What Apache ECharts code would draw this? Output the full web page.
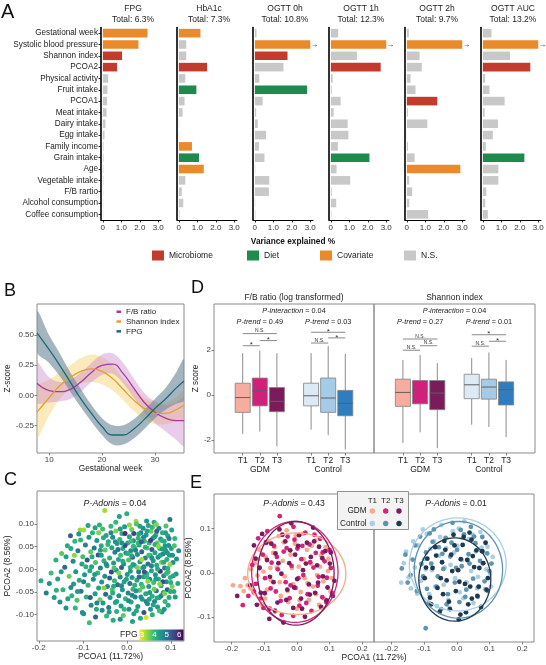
<!DOCTYPE html>
<html><head><meta charset="utf-8">
<script src="https://cdn.jsdelivr.net/npm/echarts@6/dist/echarts.min.js"></script>
<style>html,body{margin:0;padding:0;background:#fff}#c{width:546px;height:665px}</style>
</head><body><div id="c"></div>
<script>
const FONT = 'Liberation Sans, Arial, Helvetica, sans-serif';

// ================= DATA =================
// ---- Panel A ----
const factors = ['Gestational week','Systolic blood pressure','Shannon index','PCOA2','Physical activity','Fruit intake','PCOA1','Meat intake','Dairy intake','Egg intake','Family income','Grain intake','Age','Vegetable intake','F/B rartio','Alcohol consumption','Coffee consumption'];
const outcomes = ['FPG','HbA1c','OGTT 0h','OGTT 1h','OGTT 2h','OGTT AUC'];
const totals = ['6.3%','7.3%','10.8%','12.3%','9.7%','13.2%'];
const varFPG    = [2.42,1.93,1.04,0.77,0.29,0.25,0.23,0.20,0.14,0.09,0.04,0.04,0.03,0.03,0.02,0.02,0.02];
const varHbA1c  = [1.17,0.40,0.40,1.53,0.35,0.95,0.31,0.20,0.02,0.02,0.71,1.09,1.35,0.35,0.16,0.24,0.04];
const varOGTT0h = [0.09,3.00,1.77,1.55,0.24,2.83,0.42,0.07,0.16,0.61,0.22,0.52,0.02,0.78,0.76,0.02,0.03];
const varOGTT1h = [0.40,3.00,1.41,2.70,0.10,0.05,0.53,0.15,0.91,0.95,0.38,2.09,0.31,1.05,0.05,0.29,0.03];
const varOGTT2h = [0.11,3.00,0.69,0.81,0.20,0.47,1.65,0.06,1.11,0.01,0.06,0.42,2.90,0.13,0.29,0.13,1.15];
const varOGTTAUC= [0.47,3.00,1.47,2.57,0.13,0.36,1.18,0.10,0.82,0.54,0.16,2.25,0.84,0.84,0.19,0.13,0.27];
// category of each bar: M microbiome, D diet, C covariate, N not significant
const sigFPG     = 'CCMMNNNNNNNNNNNNN';
const sigHbA1c   = 'CNNMNDNNNNCDCNNNN';
const sigOGTT0h  = 'NCMNNDNNNNNNNNNNN';
const sigOGTT1h  = 'NCNMNNNNNNNDNNNNN';
const sigOGTT2h  = 'NCNNNNMNNNNNCNNNN';
const sigOGTTAUC = 'NCNMNNNNNNNDNNNNN';
const legendNames = ['Microbiome','Diet','Covariate','N.S.'];
const legendCodes = ['M','D','C','N'];
const axisMaxShown = 3; // bars reaching this are truncated (arrow)

// ---- Panel B ----
const weeks  = [7.7, 10, 12, 14, 16, 18, 20, 22, 24, 26, 28, 30, 32, 34, 35.5];
const fpgMid = [0.52, 0.38, 0.25, 0.11, -0.03, -0.15, -0.26, -0.33, -0.33, -0.28, -0.20, -0.11, -0.03, 0.06, 0.12];
const fpgLow = [0.36, 0.27, 0.16, 0.03, -0.10, -0.22, -0.33, -0.41, -0.41, -0.36, -0.28, -0.19, -0.12, -0.07, -0.04];
const fpgUp  = [0.70, 0.50, 0.35, 0.19, 0.05, -0.08, -0.19, -0.25, -0.25, -0.20, -0.12, -0.03, 0.06, 0.19, 0.30];
const fbMid  = [0.10, 0.04, 0.03, 0.05, 0.11, 0.19, 0.25, 0.26, 0.18, 0.06, -0.06, -0.14, -0.19, -0.21, -0.21];
const fbLow  = [-0.06, -0.06, -0.05, -0.03, 0.03, 0.11, 0.17, 0.18, 0.10, -0.02, -0.14, -0.23, -0.30, -0.37, -0.42];
const fbUp   = [0.27, 0.15, 0.11, 0.13, 0.19, 0.27, 0.34, 0.35, 0.27, 0.14, 0.02, -0.05, -0.08, -0.06, -0.02];
const shMid  = [-0.14, -0.02, 0.08, 0.15, 0.20, 0.22, 0.20, 0.14, 0.05, -0.04, -0.11, -0.15, -0.15, -0.12, -0.08];
const shLow  = [-0.35, -0.17, -0.03, 0.05, 0.10, 0.11, 0.09, 0.04, -0.04, -0.13, -0.20, -0.24, -0.24, -0.22, -0.20];
const shUp   = [0.07, 0.13, 0.19, 0.25, 0.31, 0.34, 0.32, 0.25, 0.14, 0.05, -0.02, -0.06, -0.06, -0.02, 0.04];

// ---- Panel D ---- [min, q1, median, q3, max] for GDM T1..T3, Control T1..T3
const groups = ['GDM','Control'];
const terciles = ['T1','T2','T3'];
const fbBoxStats = [
  [-1.73,-0.77,-0.11,0.53,1.87],[-1.62,-0.48,0.19,0.76,1.98],[-2.28,-0.74,-0.28,0.34,1.87],
  [-1.54,-0.48,-0.03,0.53,1.87],[-1.78,-0.77,-0.13,0.76,2.19],[-2.43,-0.92,-0.37,0.21,1.84]];
const shBoxStats = [
  [-2.13,-0.50,0.12,0.71,1.57],[-1.66,-0.39,0.24,0.65,1.79],[-2.36,-0.65,0.09,0.65,1.42],
  [-1.32,-0.16,0.46,0.93,1.66],[-1.42,-0.18,0.36,0.71,1.90],[-1.87,-0.44,0.24,0.59,1.57]];
// [group, tercileA, tercileB, height, label]
const fbBrackets = [[0,0,2,2.74,'N.S.'],[0,0,1,2.20,'*'],[0,1,2,2.43,'*'],[1,0,2,2.80,'*'],[1,0,1,2.32,'N.S.'],[1,1,2,2.55,'*']];
const shBrackets = [[0,0,2,2.50,'N.S.'],[0,0,1,2.00,'N.S.'],[0,1,2,2.20,'N.S.'],[1,0,2,2.69,'*'],[1,0,1,2.18,'N.S.'],[1,1,2,2.40,'*']];
const fbTrend = ['0.49','0.03'], shTrend = ['0.27','0.01'];
const fbInteraction = '0.04', shInteraction = '0.04';

// ---- Panel C ---- [PCOA1, PCOA2, FPG]
const cPoints = [
[-0.195,-0.025,4.2],[-0.183,-0.052,4.9],[-0.172,-0.008,3.9],[-0.165,-0.062,4.4],[-0.161,0.021,4.1],
[-0.157,-0.021,4.3],[-0.152,-0.072,4.6],[-0.148,0.035,3.7],[-0.145,-0.045,4.0],[-0.141,0.005,5.1],
[-0.138,-0.085,4.5],[-0.135,0.052,4.2],[-0.131,-0.015,3.6],[-0.128,0.074,5.3],[-0.125,-0.058,4.1],[-0.122,0.018,4.7],[-0.121,-0.032,4.4],
[-0.118,0.062,4.0],[-0.116,-0.005,4.5],[-0.113,-0.068,3.8],[-0.111,0.041,4.9],[-0.108,-0.024,4.2],[-0.106,0.087,3.4],[-0.104,-0.048,5.0],[-0.102,0.012,4.3],[-0.101,-0.095,4.6],[-0.1,0.028,3.9],
[-0.098,0.087,3.3],[-0.096,-0.012,4.4],[-0.094,0.054,4.8],[-0.092,-0.061,4.1],[-0.09,0.021,5.4],[-0.088,-0.035,4.0],[-0.086,0.071,4.5],[-0.085,-0.118,3.9],[-0.084,-0.003,4.2],[-0.082,0.039,3.7],[-0.081,-0.079,4.7],[-0.08,0.006,4.3],
[-0.078,0.081,4.1],[-0.076,-0.022,4.6],[-0.074,0.047,5.0],[-0.072,-0.054,4.4],[-0.071,0.015,3.8],[-0.069,-0.088,4.2],[-0.068,0.064,4.5],[-0.066,-0.008,4.0],[-0.065,0.032,5.5],[-0.064,-0.041,4.3],[-0.062,0.098,4.1],[-0.061,-0.067,3.6],[-0.06,0.003,4.8],
[-0.058,0.052,4.2],[-0.057,-0.028,4.5],[-0.055,0.089,3.9],[-0.054,-0.074,4.4],[-0.052,0.019,4.1],[-0.05,0.13,3.3],[-0.05,-0.015,4.6],[-0.049,0.043,3.7],[-0.048,-0.055,5.2],[-0.047,0.075,4.3],[-0.046,-0.103,4.0],[-0.045,0.008,4.4],[-0.044,-0.038,4.7],[-0.042,0.061,4.2],[-0.041,-0.084,4.9],
[-0.039,0.025,4.1],[-0.038,-0.062,4.5],[-0.036,0.095,4.0],[-0.035,-0.006,5.6],[-0.034,0.048,4.3],[-0.033,-0.045,3.8],[-0.032,0.071,4.6],[-0.031,-0.112,4.2],[-0.03,0.014,4.4],[-0.028,-0.025,4.0],[-0.027,0.038,4.8],[-0.026,-0.073,4.3],[-0.025,0.085,3.5],[-0.024,-0.002,4.5],[-0.023,-0.093,4.1],[-0.022,0.057,4.4],[-0.021,-0.034,5.1],
[-0.019,0.022,4.2],[-0.018,-0.058,4.6],[-0.017,0.117,4.3],[-0.016,0.066,4.0],[-0.015,-0.017,4.7],[-0.014,0.031,3.9],[-0.013,-0.081,4.4],[-0.012,0.004,5.3],[-0.011,0.079,4.1],[-0.01,-0.045,4.5],[-0.009,0.046,4.2],[-0.008,-0.102,3.7],[-0.007,0.012,4.6],[-0.006,-0.027,4.3],[-0.005,0.094,4.4],[-0.004,0.079,5.9],[-0.003,-0.065,4.0],[-0.002,0.036,4.8],
[0.0,0.123,4.1],[0.001,-0.011,4.4],[0.002,0.058,4.2],[0.003,-0.052,4.7],[0.004,0.021,3.8],[0.005,-0.088,4.5],[0.006,0.072,4.3],[0.007,-0.031,5.0],[0.008,0.004,4.1],[0.009,0.041,4.6],[0.01,-0.072,4.2],[0.011,0.088,3.6],[0.012,-0.018,4.4],[0.013,0.027,5.4],[0.014,-0.044,4.0],[0.015,0.063,4.7],[0.016,-0.098,4.3],[0.017,0.009,4.5],[0.018,0.048,3.9],[0.019,-0.061,4.8],
[0.021,0.106,3.3],[0.022,0.1,3.8],[0.023,-0.024,4.2],[0.024,0.033,4.6],[0.025,-0.082,4.4],[0.026,0.069,4.1],[0.027,-0.005,4.9],[0.028,0.054,4.3],[0.029,-0.046,3.7],[0.03,0.017,4.5],[0.031,-0.108,4.2],[0.032,0.081,4.8],[0.033,-0.033,4.0],[0.034,0.039,5.2],[0.035,-0.066,4.4],[0.036,0.003,4.1],[0.037,0.091,4.6],[0.038,-0.016,4.3],[0.039,-0.095,5.5],[0.04,0.062,4.0],[0.044,-0.106,3.0],[0.042,0.025,4.7],
[0.043,-0.054,4.2],[0.044,0.076,4.5],[0.045,-0.009,4.1],[0.046,0.047,3.8],[0.047,-0.076,4.6],[0.048,0.012,5.0],[0.049,0.097,4.3],[0.05,-0.038,4.4],[0.051,0.058,4.0],[0.052,-0.022,4.8],[0.053,0.031,4.2],[0.054,-0.088,4.5],[0.055,0.084,3.6],[0.056,-0.003,4.3],[0.057,0.044,5.3],[0.058,-0.059,4.1],[0.059,0.069,4.6],[0.06,0.019,4.4],[0.061,-0.029,3.9],[0.062,0.104,4.2],[0.063,-0.071,4.7],[0.064,0.037,4.3],
[0.065,-0.012,4.5],[0.066,0.076,4.0],[0.067,-0.047,5.1],[0.068,0.009,4.2],[0.069,0.058,3.7],[0.07,-0.083,4.4],[0.071,0.027,4.6],[0.072,-0.021,4.1],[0.073,0.091,4.8],[0.074,-0.062,4.3],[0.075,0.046,4.0],[0.076,-0.004,5.8],[0.077,0.067,4.5],[0.078,-0.036,4.2],[0.079,0.016,3.6],[0.08,-0.094,4.4],[0.081,0.081,4.1],[0.082,0.034,4.7],[0.083,-0.051,4.3],[0.084,-0.014,4.6],
[0.085,0.062,4.2],[0.086,0.003,4.9],[0.087,-0.071,4.0],[0.088,0.042,4.4],[0.089,0.096,3.8],[0.09,-0.027,4.5],[0.091,0.022,4.1],[0.092,-0.045,5.3],[0.093,0.074,4.3],[0.094,-0.006,3.9],[0.095,0.053,4.6],[0.096,-0.062,4.2],[0.097,0.031,4.4],[0.098,0.11,5.0],[0.099,-0.018,4.1],
[0.101,0.046,4.3],[0.103,-0.038,3.5],[0.105,0.015,4.6],[0.107,-0.049,4.2],[0.109,0.068,4.0],[0.112,-0.01,4.4],
[-0.058,0.031,4.4],[-0.052,-0.041,3.4],[-0.047,0.012,4.6],[-0.043,0.055,4.0],[-0.039,-0.019,5.3],[-0.036,0.081,4.7],[-0.032,-0.052,4.2],[-0.029,0.003,3.8],[-0.026,0.061,4.5],[-0.023,-0.071,4.3],[-0.02,0.044,5.0],[-0.018,-0.008,3.5],[-0.015,0.089,4.4],[-0.012,-0.036,4.6],[-0.009,0.018,4.2],[-0.006,-0.088,4.0],[-0.004,0.053,5.5],[-0.001,-0.022,4.3],
[0.002,0.035,4.1],[0.004,-0.069,4.6],[0.006,0.098,3.4],[0.008,-0.004,4.4],[0.01,0.062,3.9],[0.012,-0.057,4.7],[0.014,0.011,4.3],[0.016,0.079,5.6],[0.018,-0.035,4.1],[0.02,0.042,4.8],[0.022,-0.091,4.2],[0.024,0.004,3.5],[0.026,0.058,4.0],[0.028,-0.017,5.1],[0.03,0.095,4.3],[0.032,-0.061,4.5],[0.034,0.022,3.3],[0.036,-0.039,3.8],[0.038,0.071,4.6],[0.04,-0.006,5.4],
[0.042,0.049,4.1],[0.044,-0.071,4.7],[0.046,0.085,4.3],[0.048,-0.026,3.4],[0.05,0.031,3.9],[0.052,-0.051,4.4],[0.054,0.064,5.7],[0.056,0.008,4.8],[0.058,0.093,4.0],[0.06,-0.078,4.3],[0.062,-0.044,3.6],[0.064,0.055,4.1],[0.066,-0.021,4.4],[0.068,0.084,5.2],[0.07,0.001,4.2],[0.072,0.051,3.4],[0.074,-0.091,3.9],[0.076,0.031,4.3],[0.078,-0.058,4.7],[0.08,0.064,4.1],
[0.082,-0.027,5.5],[0.084,0.016,4.2],[0.086,-0.053,3.5],[0.088,0.081,4.3],[0.09,-0.009,4.0],[0.092,0.037,4.5],[0.094,-0.079,4.2],[0.096,0.068,4.8],[0.098,0.011,3.4],[0.1,-0.029,4.1],[0.102,0.087,4.3],[0.104,0.031,4.6],[0.106,-0.014,4.2],[0.108,0.052,3.8],[0.11,-0.061,4.4],[0.113,0.023,4.5],[0.116,-0.031,4.2],[0.118,0.041,4.7],
[-0.138,0.028,4.3],[-0.127,-0.04,4.6],[-0.119,0.031,3.4],[-0.112,-0.049,4.4],[-0.105,0.065,4.0],[-0.098,-0.027,4.7],[-0.093,0.006,4.1],[-0.088,0.097,4.3],[-0.083,-0.062,5.3],[-0.079,0.028,4.2],[-0.073,-0.011,4.4],[-0.068,-0.074,4.8],[-0.064,0.081,3.5],[-0.06,0.042,4.3],[-0.056,-0.09,4.6],[-0.053,0.07,4.2],
[-0.149,-0.005,4.4],[-0.16,-0.046,4.1],[-0.176,-0.031,4.6],[-0.134,-0.065,4.3],[-0.117,-0.085,4.0],[-0.098,-0.098,4.5],[-0.071,-0.105,5.2],[-0.04,-0.094,4.4],[-0.015,-0.11,4.6],[0.013,-0.115,4.3],[0.058,-0.1,4.1],[0.085,-0.088,4.5],[0.067,0.099,3.5],[0.045,0.107,4.4],[-0.025,0.104,4.0],[-0.072,0.092,4.3],[-0.109,0.078,4.5],[-0.127,0.046,4.2],
[0.015,0.051,4.0],[0.027,0.078,4.2],[0.039,0.006,4.6],[0.051,-0.066,4.3],[0.063,0.072,4.5],[0.075,-0.033,3.4],[0.087,0.052,4.4],[0.099,-0.049,4.2],[0.021,-0.047,4.5],[0.033,0.061,5.3],[0.045,-0.016,4.0],[0.057,0.025,4.6],[0.069,-0.063,4.2],[0.081,0.045,4.4],[0.093,0.002,4.1],[0.011,0.03,4.3],[-0.011,0.058,4.5],[-0.03,-0.037,4.2]];

// ---- Panel E ---- [PCOA1, PCOA2]
const gdmT1 = [[-0.195,-0.028],[-0.172,-0.03],[-0.158,-0.012],[-0.15,-0.028],[-0.141,0.008],[-0.132,-0.045],[-0.128,0.022],[-0.12,-0.006],[-0.113,0.052],[-0.108,-0.071],[-0.102,0.003],[-0.095,0.036],[-0.091,-0.038],[-0.085,0.071],[-0.079,-0.017],[-0.072,0.045],[-0.066,-0.088],[-0.061,0.012],[-0.055,0.083],[-0.049,-0.052],[-0.043,0.027],[-0.037,-0.008],[-0.031,0.096],[-0.026,-0.066],[-0.019,0.041],[-0.012,-0.026],[-0.006,0.066],[0.0,-0.081],[0.006,0.014],[0.012,-0.043],[0.018,0.088],[0.024,-0.012],[0.031,0.052],[0.037,-0.061],[0.043,0.021],[0.049,-0.031],[0.056,0.073],[0.062,-0.005],[0.068,-0.072],[0.074,0.039],[0.081,-0.019],[0.088,0.058],[0.095,0.004],[0.103,-0.041],
 [-0.141,-0.035],[-0.118,0.031],[-0.097,-0.058],[-0.081,0.011],[-0.068,0.058],[-0.052,-0.021],[-0.04,0.069],[-0.028,-0.041],[-0.015,0.011],[-0.003,0.084],[0.009,-0.062],[0.021,0.031],[0.033,-0.023],[0.046,0.061],[0.059,-0.048],[0.071,0.014],[0.084,-0.058],[0.097,0.032],[0.108,-0.012],[-0.162,-0.041]];
const gdmT2 = [[-0.165,-0.073],[-0.148,-0.052],[-0.136,0.018],[-0.125,-0.025],[-0.118,0.078],[-0.111,-0.058],[-0.104,0.041],[-0.097,-0.012],[-0.09,0.094],[-0.083,-0.081],[-0.077,0.023],[-0.07,0.061],[-0.064,-0.042],[-0.058,0.008],[-0.052,0.128],[-0.046,-0.095],[-0.04,0.048],[-0.034,-0.021],[-0.028,0.082],[-0.022,-0.057],[-0.016,0.016],[-0.01,0.104],[-0.004,-0.034],[0.002,0.055],[0.008,-0.074],[0.014,0.031],[0.02,-0.005],[0.026,0.091],[0.033,-0.048],[0.039,0.064],[0.045,-0.086],[0.051,0.012],[0.058,0.045],[0.064,-0.029],[0.071,0.077],[0.078,-0.055],[0.085,0.026],[0.092,-0.011],[0.1,0.052],[0.108,-0.046],
 [-0.131,-0.042],[-0.114,0.012],[-0.093,0.068],[-0.08,-0.035],[-0.061,0.036],[-0.049,-0.063],[-0.031,0.056],[-0.019,-0.028],[-0.007,0.075],[0.005,-0.012],[0.017,0.061],[0.029,-0.068],[0.041,0.024],[0.054,0.086],[0.067,-0.009],[0.079,0.046],[0.09,-0.066],[0.104,0.011],[-0.102,-0.079],[-0.011,-0.097]];
const gdmT3 = [[-0.182,-0.052],[-0.142,-0.028],[-0.131,0.062],[-0.122,-0.072],[-0.114,0.011],[-0.106,0.088],[-0.098,-0.046],[-0.091,0.029],[-0.084,-0.104],[-0.078,0.066],[-0.071,-0.021],[-0.065,0.044],[-0.059,-0.067],[-0.053,0.098],[-0.047,-0.002],[-0.041,-0.112],[-0.035,0.071],[-0.029,-0.038],[-0.023,0.022],[-0.017,0.112],[-0.011,-0.079],[-0.005,0.041],[0.001,-0.014],[0.007,0.085],[0.013,-0.058],[0.019,0.006],[0.025,-0.099],[0.031,0.068],[0.037,-0.026],[0.043,0.036],[0.05,0.102],[0.056,-0.045],[0.062,0.017],[0.068,0.059],[0.074,-0.077],[0.08,-0.008],[0.087,0.049],[0.094,-0.033],[0.101,0.021],[0.11,-0.052],
 [-0.126,0.032],[-0.11,-0.045],[-0.094,0.069],[-0.082,-0.009],[-0.067,-0.085],[-0.056,0.022],[-0.044,0.086],[-0.032,-0.061],[-0.02,0.051],[-0.008,-0.033],[0.004,0.061],[0.016,-0.081],[0.028,0.021],[0.04,-0.049],[0.053,0.071],[0.065,-0.022],[0.078,0.033],[0.091,-0.062],[0.104,0.046],[0.115,-0.018]];
const ctlT1 = [[-0.17,-0.022],[-0.155,0.048],[-0.14,-0.035],[-0.128,0.012],[-0.118,0.062],[-0.109,-0.018],[-0.1,0.031],[-0.092,0.088],[-0.084,-0.048],[-0.076,0.006],[-0.069,0.071],[-0.061,-0.075],[-0.054,0.039],[-0.047,0.108],[-0.04,-0.027],[-0.033,0.056],[-0.026,-0.061],[-0.019,0.018],[-0.012,0.094],[-0.005,-0.012],[0.002,0.061],[0.009,-0.044],[0.016,0.029],[0.023,0.116],[0.03,-0.021],[0.037,0.076],[0.044,0.004],[0.051,-0.068],[0.058,0.048],[0.065,-0.009],[0.072,0.092],[0.079,0.021],[0.086,-0.037],[0.094,0.059],[0.102,-0.002],[0.11,0.036],
 [-0.162,0.022],[-0.147,-0.01],[-0.133,0.071],[-0.121,-0.047],[-0.104,0.098],[-0.095,0.008],[-0.081,0.054],[-0.066,-0.031],[-0.051,0.081],[-0.037,0.012],[-0.022,-0.079],[-0.008,0.046],[0.006,0.1],[0.02,-0.057],[0.034,0.029],[0.049,0.086],[0.062,-0.035],[0.076,0.057],[0.09,0.008],[0.105,-0.031]];
const ctlT2 = [[-0.168,0.01],[-0.15,-0.022],[-0.135,0.03],[-0.122,-0.041],[-0.112,0.082],[-0.103,-0.008],[-0.094,0.046],[-0.086,-0.068],[-0.078,0.021],[-0.07,0.098],[-0.062,-0.031],[-0.055,0.058],[-0.048,-0.082],[-0.041,0.009],[-0.034,0.079],[-0.027,-0.048],[-0.02,0.037],[-0.013,0.113],[-0.006,-0.022],[0.001,0.052],[0.008,-0.066],[0.015,0.015],[0.022,0.087],[0.029,-0.038],[0.036,0.042],[0.043,0.104],[0.05,-0.013],[0.057,0.067],[0.064,-0.054],[0.071,0.027],[0.078,0.081],[0.085,-0.019],[0.093,0.044],[0.1,0.004],[-0.095,-0.125],
 [-0.157,0.041],[-0.141,-0.005],[-0.127,0.062],[-0.108,0.02],[-0.091,-0.036],[-0.074,0.07],[-0.058,-0.008],[-0.044,0.043],[-0.031,-0.071],[-0.016,0.068],[-0.002,0.011],[0.012,0.097],[0.026,-0.054],[0.039,0.021],[0.053,0.082],[0.067,-0.032],[0.08,0.048],[0.094,-0.041],[0.106,0.021],[-0.083,0.089]];
const ctlT3 = [[-0.098,-0.012],[-0.09,0.032],[-0.082,-0.056],[-0.074,0.011],[-0.066,0.058],[-0.059,-0.034],[-0.052,-0.088],[-0.045,0.024],[-0.038,0.072],[-0.031,-0.017],[-0.024,-0.065],[-0.017,0.041],[-0.01,0.086],[-0.003,-0.041],[0.004,0.006],[0.011,-0.094],[0.018,0.063],[0.025,-0.025],[0.032,0.029],[0.039,0.091],[0.046,-0.058],[0.053,0.013],[0.06,0.051],[0.067,-0.031],[0.074,-0.077],[0.081,0.022],[0.088,0.068],[0.095,-0.012],[0.006,-0.105],[0.045,0.075],
 [-0.094,0.012],[-0.078,-0.071],[-0.063,0.039],[-0.049,-0.012],[-0.035,0.052],[-0.021,-0.082],[-0.007,0.062],[0.008,-0.02],[0.021,0.081],[0.035,-0.071],[0.049,0.038],[0.063,-0.052],[0.077,0.049],[0.091,-0.038],[0.012,0.031],[-0.014,0.004],[0.041,-0.031],[0.069,0.011],[-0.042,-0.048],[0.028,-0.089]];
// ellipses [cx, cy, rx, ry, angleDeg]
const gdmEllipses = [[0.0,-0.002,0.15,0.092,0],[-0.006,0.002,0.132,0.114,0],[-0.003,-0.001,0.117,0.117,0]];
const ctlEllipses = [[0.003,0.019,0.148,0.105,0],[0.005,0.007,0.135,0.109,0],[-0.006,-0.015,0.11,0.094,0]];
const adonisGDM = '0.43', adonisCtl = '0.01', adonisC = '0.04';

// ================= STYLE / LAYOUT =================
const SIG_COLOR = {M:'#C23B2C', D:'#1F8A4D', C:'#E98A2B', N:'#C8C8C8'};
const BOX_COLORS = ['#F6AD9F','#D21F7C','#7B1B5B','#DDE9F5','#A5CBE6','#2E7DC0'];
const E_COLORS = ['#F8A88C','#D4237A','#7B1C5F','#A9CFE4','#5F93AE','#1E3A52'];
const VIRIDIS_R = ['#FDE725','#B5DE2B','#6ECE58','#35B779','#1F9E89','#26828E','#31688E','#3E4989','#482878','#440154'];
const FPG_MIN = 2.8, FPG_MAX = 6.35;
const aLefts = [101,177,253,329,405,481];

function fmtNum(v, d){ return (v < 0 ? '-' : '') + Math.abs(v).toFixed(d); }
function boxX(k){ return Math.floor(k/3) + 1 + (k%3 - 1) * 0.25; }
function txt(x, y, text, o){
  const s = Object.assign({text, fontSize:8.3, fontFamily:FONT, fill:'#222', align:'center', verticalAlign:'middle'}, o||{});
  s.textAlign = s.align; s.textVerticalAlign = s.verticalAlign;
  return {type:'text', x, y, z:100, silent:true, style:s};
}
function richStyle(size){
  return {i:{fontStyle:'italic', fontSize:size, fontFamily:FONT, fill:'#222'}, n:{fontSize:size, fontFamily:FONT, fill:'#222'}};
}
function ptxt(x, y, it, rest, size){
  return txt(x, y, '{i|'+it+'}{n|'+rest+'}', {rich:richStyle(size), fontSize:size});
}

const grids = [], xAxes = [], yAxes = [], series = [];
const gridBase = {containLabel:false, outerBoundsMode:'none'};
const boxGrid = (l,t,w,h) => Object.assign({left:l, top:t, width:w, height:h, show:true, borderColor:'#8a8a8a', borderWidth:1, backgroundColor:'transparent'}, gridBase);
const noLine = {show:false, onZero:false};
const tickStyle = {show:true, length:2.5, lineStyle:{color:'#666', width:0.8}};
const lblStyle = {fontSize:8, color:'#444', fontFamily:FONT, margin:3, hideOverlap:false};

// ---------- A ----------
const aValues = [varFPG, varHbA1c, varOGTT0h, varOGTT1h, varOGTT2h, varOGTTAUC];
const aSig = [sigFPG, sigHbA1c, sigOGTT0h, sigOGTT1h, sigOGTT2h, sigOGTTAUC];
aValues.forEach((vals, i) => {
  grids.push(Object.assign({left:aLefts[i], top:27.5, width:60, height:192.5, show:false}, gridBase));
  xAxes.push({gridIndex:i, type:'value', min:-0.1, max:3.15,
    axisLine:{show:true, onZero:false, lineStyle:{color:'#000', width:1}},
    axisTick:{show:true, length:2.5, lineStyle:{color:'#000', width:0.8}, customValues:[0,1,2,3]},
    axisLabel:{customValues:[0,1,2,3], formatter:v => v === 0 ? '0' : v.toFixed(1), fontSize:8, color:'#333', fontFamily:FONT, margin:4, hideOverlap:false},
    splitLine:{show:false}});
  yAxes.push({gridIndex:i, type:'category', data:factors, inverse:true,
    axisLine:{show:true, onZero:false, lineStyle:{color:'#000', width:1.6}},
    axisTick:{show:i===0, length:2.5, alignWithLabel:true, lineStyle:{color:'#000', width:0.8}},
    axisLabel:{show:i===0, interval:0, fontSize:8.2, color:'#222', fontFamily:FONT, margin:3, hideOverlap:false},
    splitLine:{show:false}});
  series.push({type:'bar', name:'var-' + outcomes[i], xAxisIndex:i, yAxisIndex:i, barWidth:8.6, silent:true,
    data: vals.map((v,k) => ({value:v, itemStyle:{color:SIG_COLOR[aSig[i][k]]},
      label:{show: v >= axisMaxShown, position:'right', distance:0, formatter:'\u2192', fontSize:8, color:'#222', fontFamily:FONT}}))});
});
legendNames.forEach((n, j) => series.push({type:'scatter', name:n, xAxisIndex:0, yAxisIndex:0, data:[], itemStyle:{color:SIG_COLOR[legendCodes[j]], opacity:1}}));

// ---------- B ----------
const gB = grids.length;
grids.push(boxGrid(37, 304, 147, 149));
xAxes.push({gridIndex:gB, type:'value', min:7.7, max:35.5, axisLine:noLine, splitLine:{show:false},
  axisTick:Object.assign({customValues:[10,20,30]}, tickStyle),
  axisLabel:Object.assign({customValues:[10,20,30]}, lblStyle),
  name:'Gestational week', nameLocation:'middle', nameGap:10, nameTextStyle:{fontSize:8.3, color:'#222', fontFamily:FONT, verticalAlign:'top'}});
yAxes.push({gridIndex:gB, type:'value', min:-0.48, max:0.76, axisLine:noLine, splitLine:{show:false},
  axisTick:Object.assign({customValues:[-0.25,0,0.25,0.5]}, tickStyle),
  axisLabel:Object.assign({customValues:[-0.25,0,0.25,0.5], formatter:v => fmtNum(v,2)}, lblStyle),
  name:'Z-score', nameLocation:'middle', nameGap:20, nameRotate:90, nameTextStyle:{fontSize:8.3, color:'#222', fontFamily:FONT}});
function bandSeries(lo, up, color, op){
  return {type:'custom', xAxisIndex:gB, yAxisIndex:gB, silent:true, clip:true, z:1,
    data:[[weeks[0], lo[0]]],
    renderItem:(p, api) => {
      const pts = [];
      weeks.forEach((w,i) => pts.push(api.coord([w, up[i]])));
      for (let i = weeks.length-1; i >= 0; i--) pts.push(api.coord([weeks[i], lo[i]]));
      return {type:'polygon', shape:{points:pts, smooth:0.35}, style:{fill:color, opacity:op}};
    }};
}
series.push(bandSeries(shLow, shUp, '#F6D36B', 0.45));
series.push(bandSeries(fbLow, fbUp, '#C77FC9', 0.40));
series.push(bandSeries(fpgLow, fpgUp, '#6E8797', 0.62));
[['F/B ratio', fbMid, '#A93A9C'], ['Shannon index', shMid, '#E3A02E'], ['FPG', fpgMid, '#1B6A78']].forEach(([n, arr, c]) => {
  series.push({type:'line', name:n, xAxisIndex:gB, yAxisIndex:gB, smooth:0.5, symbol:'none', silent:true, z:3,
    data: weeks.map((w,i) => [w, arr[i]]), lineStyle:{color:c, width:1.3}, itemStyle:{color:c}});
});

// ---------- D ----------
const dTicks = [0,1,2,3,4,5].map(boxX);
function dLabel(v){
  const k = dTicks.findIndex(t => Math.abs(t - v) < 1e-6);
  return k < 0 ? '' : terciles[k % 3];
}
const gD = [];
[[214,160],[374,161]].forEach(([l,w], f) => {
  const gi = grids.length; gD.push(gi);
  grids.push(boxGrid(l, 304, w, 149));
  xAxes.push({gridIndex:gi, type:'value', min:0.33, max:2.67, axisLine:noLine, splitLine:{show:false},
    axisTick:Object.assign({customValues:dTicks}, tickStyle),
    axisLabel:{customValues:dTicks, formatter:dLabel, fontSize:8.5, color:'#222', fontFamily:FONT, margin:3, hideOverlap:false}});
  yAxes.push({gridIndex:gi, type:'value', min:-2.58, max:4.06, axisLine:noLine, splitLine:{show:false},
    axisTick:Object.assign({customValues:[-2,0,2]}, tickStyle, {show:f===0}),
    axisLabel:Object.assign({customValues:[-2,0,2], show:f===0, formatter:v => v < 0 ? '-' + Math.abs(v) : String(v)}, lblStyle),
    name: f===0 ? 'Z score' : '', nameLocation:'middle', nameGap:12, nameRotate:90, nameTextStyle:{fontSize:8.3, color:'#222', fontFamily:FONT}});
});
function boxRender(stats){
  return (params, api) => {
    const k = params.dataIndex, s = stats[k], x = api.value(0);
    const half = api.size([0.11, 0])[0];
    const c = v => api.coord([x, v]);
    const lo = c(s[0]), q1 = c(s[1]), md = c(s[2]), q3 = c(s[3]), hi = c(s[4]);
    const cx = md[0];
    return {type:'group', children:[
      {type:'line', shape:{x1:cx, y1:hi[1], x2:cx, y2:q3[1]}, style:{stroke:'#8c8c8c', lineWidth:1}},
      {type:'line', shape:{x1:cx, y1:q1[1], x2:cx, y2:lo[1]}, style:{stroke:'#8c8c8c', lineWidth:1}},
      {type:'rect', shape:{x:cx-half, y:q3[1], width:2*half, height:q1[1]-q3[1]}, style:{fill:BOX_COLORS[k], stroke:'#808080', lineWidth:0.8}},
      {type:'line', shape:{x1:cx-half, y1:md[1], x2:cx+half, y2:md[1]}, style:{stroke:'#5f5f5f', lineWidth:1}}
    ]};
  };
}
function bracketRender(list){
  return (params, api) => {
    const b = list[params.dataIndex];
    const p1 = api.coord([boxX(b[0]*3+b[1]), b[3]]), p2 = api.coord([boxX(b[0]*3+b[2]), b[3]]);
    const star = b[4] === '*';
    const st = {text:b[4], fontSize: star ? 8 : 5, fontFamily:FONT, fill:'#333', align:'center', verticalAlign:'bottom'};
    st.textAlign = 'center'; st.textVerticalAlign = 'bottom';
    return {type:'group', children:[
      {type:'line', shape:{x1:p1[0], y1:p1[1], x2:p2[0], y2:p2[1]}, style:{stroke:'#555', lineWidth:0.7}},
      {type:'text', x:(p1[0]+p2[0])/2, y:p1[1] + (star ? 3.5 : -0.3), style:st}
    ]};
  };
}
const TREND_Y = 3.24, INTER_Y = 3.76;
function annotRender(trends, inter){
  return (params, api) => {
    const i = params.dataIndex;
    const p = api.coord([api.value(0), api.value(1)]);
    const lab = i < 2 ? ['P-trend', trends[i]] : ['P-interaction', inter];
    const st = {text:'{i|'+lab[0]+'}{n| = '+lab[1]+'}', rich:richStyle(7.3), fontSize:7.3, align:'center', verticalAlign:'middle'};
    st.textAlign = 'center'; st.textVerticalAlign = 'middle';
    return {type:'text', x:p[0], y:p[1], style:st};
  };
}
[[fbBoxStats, fbBrackets, fbTrend, fbInteraction], [shBoxStats, shBrackets, shTrend, shInteraction]].forEach(([stats, br, tr, inter], f) => {
  const gi = gD[f];
  series.push({type:'custom', xAxisIndex:gi, yAxisIndex:gi, silent:true, encode:{x:0, y:1},
    data: stats.map((s,k) => [boxX(k), s[2]]), renderItem:boxRender(stats)});
  series.push({type:'custom', xAxisIndex:gi, yAxisIndex:gi, silent:true, encode:{x:0, y:1},
    data: br.map(b => [boxX(b[0]*3+b[1]), b[3]]), renderItem:bracketRender(br)});
  series.push({type:'custom', xAxisIndex:gi, yAxisIndex:gi, silent:true, encode:{x:0, y:1},
    data: [[1, TREND_Y],[2, TREND_Y],[1.5, INTER_Y]], renderItem:annotRender(tr, inter)});
});

// ---------- C ----------
const gC = grids.length;
grids.push(boxGrid(37, 491, 147, 150));
xAxes.push({gridIndex:gC, type:'value', min:-0.204, max:0.130, axisLine:noLine, splitLine:{show:false},
  axisTick:Object.assign({customValues:[-0.2,-0.1,0,0.1]}, tickStyle),
  axisLabel:Object.assign({customValues:[-0.2,-0.1,0,0.1], formatter:v => fmtNum(v,1)}, lblStyle, {margin:2.5}),
  name:'PCOA1 (11.72%)', nameLocation:'middle', nameGap:11, nameTextStyle:{fontSize:8.5, color:'#222', fontFamily:FONT, verticalAlign:'top'}});
yAxes.push({gridIndex:gC, type:'value', min:-0.158, max:0.173, axisLine:noLine, splitLine:{show:false},
  axisTick:Object.assign({customValues:[-0.1,-0.05,0,0.05,0.1]}, tickStyle),
  axisLabel:Object.assign({customValues:[-0.1,-0.05,0,0.05,0.1], formatter:v => fmtNum(v,2)}, lblStyle),
  name:'PCOA2 (8.56%)', nameLocation:'middle', nameGap:25, nameRotate:90, nameTextStyle:{fontSize:8.5, color:'#222', fontFamily:FONT}});
const cSeriesIndex = series.length;
series.push({type:'scatter', xAxisIndex:gC, yAxisIndex:gC, symbolSize:5, silent:true, data:cPoints, encode:{x:0, y:1}, itemStyle:{opacity:1}});

// ---------- E ----------
const gE = [];
[[214,160],[374,160]].forEach(([l,w], f) => {
  const gi = grids.length; gE.push(gi);
  grids.push(boxGrid(l, 494, w, 148));
  xAxes.push({gridIndex:gi, type:'value', min:-0.253, max:0.236, axisLine:noLine, splitLine:{show:false},
    axisTick:Object.assign({customValues:[-0.2,-0.1,0,0.1,0.2]}, tickStyle),
    axisLabel:Object.assign({customValues:[-0.2,-0.1,0,0.1,0.2], formatter:v => fmtNum(v,1)}, lblStyle, {margin:2.5})});
  yAxes.push({gridIndex:gi, type:'value', min:-0.156, max:0.178, axisLine:noLine, splitLine:{show:false},
    axisTick:Object.assign({customValues:[-0.1,0,0.1]}, tickStyle, {show:f===0}),
    axisLabel:Object.assign({customValues:[-0.1,0,0.1], show:f===0, formatter:v => fmtNum(v,1)}, lblStyle),
    name: f===0 ? 'PCOA2 (8.56%)' : '', nameLocation:'middle', nameGap:13, nameRotate:90, nameTextStyle:{fontSize:8.5, color:'#222', fontFamily:FONT}});
});
[[gdmT1,gdmT2,gdmT3,gdmEllipses,0],[ctlT1,ctlT2,ctlT3,ctlEllipses,1]].forEach(([a,b,c,ell,f]) => {
  const gi = gE[f];
  [a,b,c].forEach((pts, t) => series.push({type:'scatter', xAxisIndex:gi, yAxisIndex:gi, symbolSize:4.8, silent:true,
    data:pts, itemStyle:{color:E_COLORS[f*3+t], opacity:1}}));
  series.push({type:'custom', xAxisIndex:gi, yAxisIndex:gi, silent:true, z:5, encode:{x:0, y:1},
    data: ell.map(e => [e[0], e[1]]),
    renderItem:(params, api) => {
      const e = ell[params.dataIndex], a = e[4]*Math.PI/180, pts = [];
      for (let k = 0; k < 90; k++) {
        const t = k/90*2*Math.PI;
        pts.push(api.coord([e[0] + e[2]*Math.cos(t)*Math.cos(a) - e[3]*Math.sin(t)*Math.sin(a),
                            e[1] + e[2]*Math.cos(t)*Math.sin(a) + e[3]*Math.sin(t)*Math.cos(a)]));
      }
      return {type:'polygon', shape:{points:pts}, style:{fill:'none', stroke:E_COLORS[f*3+params.dataIndex], lineWidth:1.3}};
    }});
});

// group-name axes under panel D (appended last so earlier axis indices match grid indices)
gD.forEach(gi => {
  xAxes.push({gridIndex:gi, type:'value', min:0.33, max:2.67, position:'bottom', offset:0,
    axisLine:noLine, axisTick:{show:false}, splitLine:{show:false},
    axisLabel:{customValues:[1,2], formatter:v => groups[Math.round(v)-1], fontSize:8.5, color:'#222', fontFamily:FONT, margin:12.5, hideOverlap:false}});
});

// ---------- graphics ----------
const graphics = [];
graphics.push(txt(1, 12.5, 'A', {fontSize:20, align:'left', fill:'#111'}));
graphics.push(txt(4, 291.5, 'B', {fontSize:18, align:'left', fill:'#111'}));
graphics.push(txt(4, 480.5, 'C', {fontSize:18, align:'left', fill:'#111'}));
graphics.push(txt(191, 288.5, 'D', {fontSize:18, align:'left', fill:'#111'}));
graphics.push(txt(190, 483.5, 'E', {fontSize:18, align:'left', fill:'#111'}));
outcomes.forEach((o,i) => {
  graphics.push(txt(aLefts[i]+32, 9, o, {fontSize:8.5}));
  graphics.push(txt(aLefts[i]+32, 20, 'Total: ' + totals[i], {fontSize:8.5}));
});
graphics.push(txt(293, 242, 'Variance explained %', {fontSize:8.3, fontWeight:'bold', fill:'#111'}));
graphics.push(txt(294, 298, 'F/B ratio (log transformed)', {fontSize:8.5}));
graphics.push(txt(454.5, 298, 'Shannon index', {fontSize:8.5}));
graphics.push(ptxt(115, 503.5, 'P-Adonis', ' = ' + adonisC, 8.8));
graphics.push(ptxt(294, 504, 'P-Adonis', ' = ' + adonisGDM, 8.6));
graphics.push(ptxt(456, 504, 'P-Adonis', ' = ' + adonisCtl, 8.6));
graphics.push(txt(374, 658, 'PCOA1 (11.72%)', {fontSize:8.5}));
// colour bar for FPG (panel C)
const cb = {x:139.5, y:629.5, w:44, h:11};
graphics.push({type:'rect', z:100, silent:true, shape:{x:cb.x, y:cb.y, width:cb.w, height:cb.h},
  style:{fill:{type:'linear', x:0, y:0, x2:1, y2:0, colorStops:VIRIDIS_R.map((c,i) => ({offset:i/(VIRIDIS_R.length-1), color:c}))}}});
graphics.push(txt(137.5, 635, 'FPG', {fontSize:8.5, align:'right'}));
[3,4,5,6].forEach(v => graphics.push(txt(cb.x + (v-FPG_MIN)/(FPG_MAX-FPG_MIN)*cb.w, 635, String(v), {fontSize:8, fill:'#fff'})));
// legend for panel E
graphics.push({type:'rect', z:99, silent:true, shape:{x:337.5, y:491.5, width:71, height:38}, style:{fill:'#f3f3f3', stroke:'#777', lineWidth:0.8}});
const eLegX = [372.3, 385.7, 399], eLegY = [511, 523.5];
terciles.forEach((t,i) => graphics.push(txt(eLegX[i], 500.5, t, {fontSize:8})));
groups.forEach((g,r) => {
  graphics.push(txt(366.5, eLegY[r], g, {fontSize:8.2, align:'right'}));
  terciles.forEach((t,i) => graphics.push({type:'circle', z:101, silent:true, shape:{cx:eLegX[i], cy:eLegY[r], r:2.7}, style:{fill:E_COLORS[r*3+i]}}));
});

// ---------- legends ----------
const legends = legendNames.map((n,j) => ({data:[n], left:[152,247,320,404][j], top:250.5, icon:'rect', itemWidth:12, itemHeight:10,
  padding:0, selectedMode:false, textStyle:{fontSize:8.5, color:'#222', fontFamily:FONT}}));
legends.push({data:['F/B ratio','Shannon index','FPG'], orient:'vertical', left:116.5, top:307, icon:'rect', itemWidth:4.5, itemHeight:2.5,
  itemGap:0.3, padding:0, selectedMode:false, textStyle:{fontSize:8, color:'#222', fontFamily:FONT, lineHeight:9.5}});

const chart = echarts.init(document.getElementById('c'), null, {renderer:'canvas'});
chart.setOption({
  animation:false,
  backgroundColor:'#fff',
  textStyle:{fontFamily:FONT},
  grid:grids, xAxis:xAxes, yAxis:yAxes, series:series, legend:legends,
  visualMap:[{type:'continuous', show:false, seriesIndex:cSeriesIndex, dimension:2, min:FPG_MIN, max:FPG_MAX, inRange:{color:VIRIDIS_R}}],
  graphic:{elements:graphics}
});
</script></body></html>
